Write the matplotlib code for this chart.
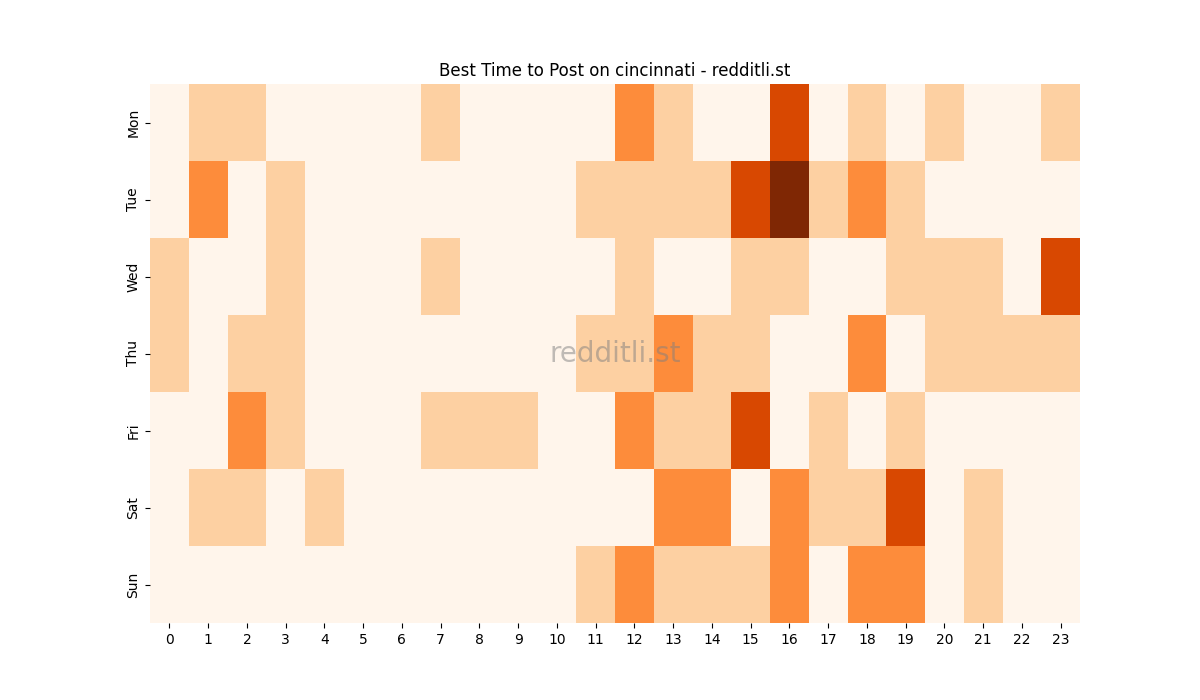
import matplotlib
matplotlib.use("Agg")
import matplotlib.pyplot as plt
import seaborn as sns
import numpy as np

days = ["Mon", "Tue", "Wed", "Thu", "Fri", "Sat", "Sun"]
hours = list(range(24))
mon = [0,1,1,0,0,0,0,1,0,0,0,0,2,1,0,0,3,0,1,0,1,0,0,1]
tue = [0,2,0,1,0,0,0,0,0,0,0,1,1,1,1,3,4,1,2,1,0,0,0,0]
wed = [1,0,0,1,0,0,0,1,0,0,0,0,1,0,0,1,1,0,0,1,1,1,0,3]
thu = [1,0,1,1,0,0,0,0,0,0,0,1,1,2,1,1,0,0,2,0,1,1,1,1]
fri = [0,0,2,1,0,0,0,1,1,1,0,0,2,1,1,3,0,1,0,1,0,0,0,0]
sat = [0,1,1,0,1,0,0,0,0,0,0,0,0,2,2,0,2,1,1,3,0,1,0,0]
sun = [0,0,0,0,0,0,0,0,0,0,0,1,2,1,1,1,2,0,2,2,0,1,0,0]
data = np.array([mon, tue, wed, thu, fri, sat, sun])

fig = plt.figure(figsize=(12, 7), dpi=100)
ax = fig.add_subplot(111)
sns.heatmap(data, cmap="Oranges", vmin=0, vmax=4, cbar=False, ax=ax,
            xticklabels=hours, yticklabels=days)
ax.set_title("Best Time to Post on cincinnati - redditli.st")
ax.text(0.5, 0.5, "redditli.st", transform=ax.transAxes, ha="center", va="center",
        fontsize=20, color="gray", alpha=0.5)
plt.setp(ax.get_yticklabels(), rotation=90, va="center")
plt.setp(ax.get_xticklabels(), rotation=0)
fig.savefig("out.png")
